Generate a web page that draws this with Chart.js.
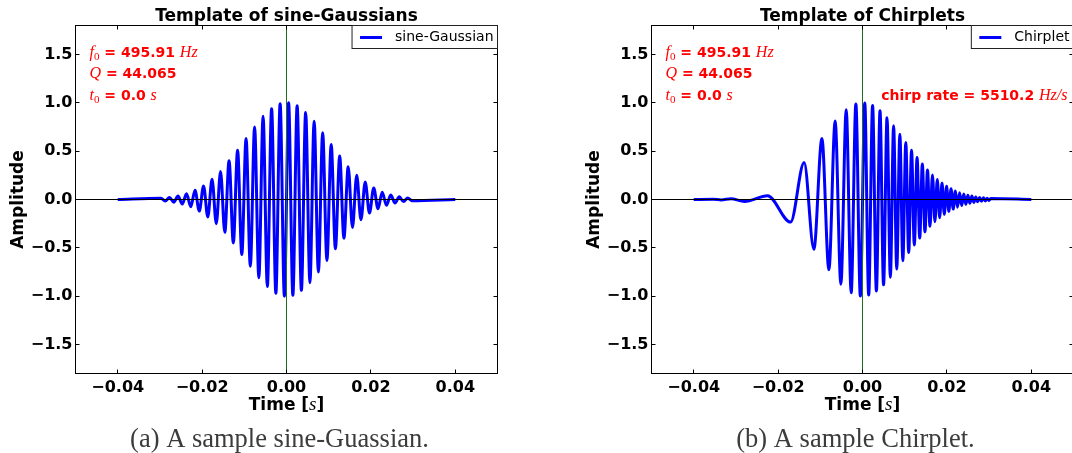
<!DOCTYPE html>
<html>
<head>
<meta charset="utf-8">
<script src="https://cdn.jsdelivr.net/npm/chart.js@4.4.1/dist/chart.umd.min.js"></script>
<style>
  html, body { margin: 0; padding: 0; background: #fff; overflow: hidden; }
  body { width: 1072px; height: 453px; position: relative; }
  canvas { position: absolute; top: 0; }
  #sg { left: 0; }
  #chirp { left: 576px; }
</style>
</head>
<body>
<canvas id="sg" width="536" height="453"></canvas>
<canvas id="chirp" width="536" height="453"></canvas>
<script>
// Axis ranges and tick labels.
const X_RANGE = [-0.05, 0.05];
const Y_RANGE = [-1.8, 1.8];
const X_TICKS = [-0.04, -0.02, 0, 0.02, 0.04];
const Y_TICKS = [-1.5, -1.0, -0.5, 0, 0.5, 1.0, 1.5];

// Waveform parameters printed on the plots.
const F0 = 495.91;
const Q = 44.065;
const T0 = 0.0;
const CHIRP_RATE = 5510.2;

// sine-Gaussian: times of the crests/troughs and their heights.
const SG_T = [
  -0.04,
  -0.02974, -0.02873, -0.02773, -0.02672, -0.02571, -0.02470, -0.02369, -0.02268, -0.02168, -0.02067,
  -0.01966, -0.01865, -0.01764, -0.01664, -0.01563, -0.01462, -0.01361, -0.01260, -0.01159, -0.01059,
  -0.00958, -0.00857, -0.00756, -0.00655, -0.00555, -0.00454, -0.00353, -0.00252, -0.00151, -0.00050,
  0.00050, 0.00151, 0.00252, 0.00353, 0.00454, 0.00555, 0.00655, 0.00756, 0.00857, 0.00958,
  0.01059, 0.01159, 0.01260, 0.01361, 0.01462, 0.01563, 0.01664, 0.01764, 0.01865, 0.01966,
  0.02067, 0.02168, 0.02268, 0.02369, 0.02470, 0.02571, 0.02672, 0.02773, 0.02873, 0.02974,
  0.04,
];
const SG_A = [
  0,
  0.012, -0.016, 0.021, -0.028, 0.037, -0.047, 0.060, -0.076, 0.095, -0.12,
  0.14, -0.18, 0.21, -0.25, 0.29, -0.34, 0.40, -0.45, 0.51, -0.57,
  0.63, -0.69, 0.75, -0.81, 0.86, -0.90, 0.94, -0.97, 0.99, -1.00,
  1.00, -0.99, 0.97, -0.94, 0.90, -0.86, 0.81, -0.75, 0.69, -0.63,
  0.57, -0.51, 0.45, -0.40, 0.34, -0.29, 0.25, -0.21, 0.18, -0.14,
  0.12, -0.095, 0.076, -0.060, 0.047, -0.037, 0.028, -0.021, 0.016, -0.012,
  0,
];

// Chirplet: crests/troughs, slow on the left, fast on the right.
const CH_T = [
  -0.04, -0.03538, -0.03348, -0.03117, -0.02796, -0.02250,
  -0.01704, -0.01383, -0.01152, -0.00962, -0.00796, -0.00648, -0.00512, -0.00386, -0.00268, -0.00157,
  -0.00051, 0.00054, 0.00147, 0.00239, 0.00329, 0.00415, 0.00499, 0.00581, 0.00660, 0.00737,
  0.00812, 0.00885, 0.00956, 0.01026, 0.01095, 0.01162, 0.01228, 0.01293, 0.01356, 0.01418,
  0.01480, 0.01540, 0.01599, 0.01658, 0.01716, 0.01772, 0.01828, 0.01884, 0.01938, 0.01992,
  0.02045, 0.02098, 0.02149, 0.02201, 0.02251, 0.02301, 0.02351, 0.02400, 0.02449, 0.02497,
  0.02544, 0.02591, 0.02638, 0.02684, 0.02730, 0.02775, 0.02820, 0.02865, 0.02909, 0.02953,
  0.02996, 0.03039, 0.04,
];
const CH_A = [
  0, 0.002, -0.004, 0.008, -0.020, 0.038,
  -0.234, 0.384, -0.515, 0.630, -0.728, 0.811, -0.877, 0.928, -0.965, 0.988,
  -0.999, 0.999, -0.989, 0.972, -0.947, 0.917, -0.883, 0.845, -0.804, 0.762,
  -0.719, 0.676, -0.633, 0.590, -0.549, 0.509, -0.470, 0.434, -0.399, 0.366,
  -0.335, 0.305, -0.278, 0.253, -0.229, 0.208, -0.188, 0.170, -0.153, 0.137,
  -0.123, 0.111, -0.099, 0.089, -0.079, 0.071, -0.063, 0.056, -0.050, 0.044,
  -0.039, 0.035, -0.031, 0.027, -0.024, 0.021, -0.019, 0.017, -0.015, 0.013,
  -0.011, 0.010, 0,
];

const BLUE = '#0000ff';
const RED = '#ff0000';
const GREEN = '#1f6f1f';

const bold = (n) => `bold ${n}px "DejaVu Sans"`;
const math = (n) => `italic ${n}px "Liberation Serif"`;
const roman = (n) => `${n}px "Liberation Serif"`;
const fmt = (v, d) => (v < 0 ? '\u2212' : '') + Math.abs(v).toFixed(d);

// Draw a line of text made of runs in different fonts.
function drawRuns(ctx, runs, x, y, align) {
    let w = 0;
    runs.forEach((r) => { ctx.font = r.font; w += ctx.measureText(r.text).width; });
    let cx = align === 'center' ? x - w / 2 : align === 'right' ? x - w : x;
    ctx.textAlign = 'left';
    runs.forEach((r) => {
        ctx.font = r.font;
        ctx.fillText(r.text, cx, y + (r.dy || 0));
        cx += ctx.measureText(r.text).width;
    });
}

// Frame, inward ticks, legend box and all the text around the plot.
const decoPlugin = {
    id: 'deco',
    afterDatasetsDraw(chart, args, opts) {
        const { ctx, chartArea: a, scales: { x, y } } = chart;
        ctx.save();
        ctx.strokeStyle = '#000';
        ctx.lineWidth = 1;
        ctx.beginPath();
        X_TICKS.forEach((v) => {
            const px = Math.floor(x.getPixelForValue(v)) + 0.5;
            ctx.moveTo(px, a.bottom); ctx.lineTo(px, a.bottom - 4);
            ctx.moveTo(px, a.top); ctx.lineTo(px, a.top + 4);
        });
        Y_TICKS.forEach((v) => {
            const py = Math.floor(y.getPixelForValue(v)) + 0.5;
            ctx.moveTo(a.left, py); ctx.lineTo(a.left + 4, py);
            ctx.moveTo(a.right, py); ctx.lineTo(a.right - 4, py);
        });
        ctx.stroke();
        ctx.strokeRect(a.left, a.top, a.right - a.left, a.bottom - a.top);

        // legend, upper right, flush with the frame
        const ds = chart.data.datasets.find((d) => d.order === 2);
        ctx.font = '14px "DejaVu Sans"';
        const tw = ctx.measureText(ds.label).width;
        const bw = 8 + 22 + 13 + tw + 4;
        const bx = a.right - bw, by = a.top, bh = 23;
        ctx.fillStyle = '#fff';
        ctx.fillRect(bx, by, bw, bh);
        ctx.strokeStyle = '#222';
        ctx.strokeRect(bx, by, bw, bh);
        ctx.strokeStyle = BLUE;
        ctx.lineWidth = 3;
        ctx.beginPath();
        ctx.moveTo(bx + 8, by + 12); ctx.lineTo(bx + 30, by + 12);
        ctx.stroke();
        ctx.fillStyle = '#000';
        ctx.textBaseline = 'middle';
        ctx.textAlign = 'left';
        ctx.fillText(ds.label, bx + 43, by + 12);

        // title
        const mid = (a.left + a.right) / 2;
        ctx.textBaseline = 'alphabetic';
        ctx.textAlign = 'center';
        ctx.font = bold(17);
        ctx.fillText(opts.title, mid, a.top - 4.5);

        // axis labels
        drawRuns(ctx, [
            { text: 'Time [', font: bold(17) },
            { text: 's', font: math(19) },
            { text: ']', font: bold(17) },
        ], mid, a.bottom + 36, 'center');
        ctx.save();
        ctx.translate(a.left - 52.5, (a.top + a.bottom) / 2);
        ctx.rotate(-Math.PI / 2);
        ctx.textAlign = 'center';
        ctx.font = bold(17);
        ctx.fillText('Amplitude', 0, 0);
        ctx.restore();

        // red parameter notes
        ctx.fillStyle = RED;
        const nx = a.left + 14;
        drawRuns(ctx, [
            { text: 'f', font: math(16) },
            { text: '0', font: roman(11), dy: 3 },
            { text: ' = ' + F0.toFixed(2) + ' ', font: bold(14) },
            { text: 'Hz', font: math(16) },
        ], nx, a.top + 31, 'left');
        drawRuns(ctx, [
            { text: 'Q', font: math(16) },
            { text: ' = ' + Q.toFixed(3), font: bold(14) },
        ], nx, a.top + 52.5, 'left');
        drawRuns(ctx, [
            { text: 't', font: math(16) },
            { text: '0', font: roman(11), dy: 3 },
            { text: ' = ' + T0.toFixed(1) + ' ', font: bold(14) },
            { text: 's', font: math(16) },
        ], nx, a.top + 74, 'left');
        if (opts.chirp) {
            drawRuns(ctx, [
                { text: 'chirp rate = ' + CHIRP_RATE.toFixed(1) + ' ', font: bold(14) },
                { text: 'Hz/s', font: math(16) },
            ], a.right - 6, a.top + 74, 'right');
        }

        // caption under the panel
        ctx.fillStyle = '#3c3c3c';
        ctx.textAlign = 'center';
        ctx.font = roman(26.5);
        ctx.fillText(opts.caption, mid - 7, 447);
        ctx.restore();
    },
};

function makeChart(id, times, amps, label, deco) {
    const points = times.map((t, i) => ({ x: t, y: amps[i] }));
    return new Chart(document.getElementById(id), {
        type: 'line',
        data: {
            datasets: [
                {
                    label: 'zero',
                    data: X_RANGE.map((v) => ({ x: v, y: 0 })),
                    borderColor: '#000', borderWidth: 1, pointRadius: 0, order: 0,
                },
                {
                    label: 't0',
                    data: Y_RANGE.map((v) => ({ x: T0, y: v })),
                    borderColor: GREEN, borderWidth: 1, pointRadius: 0, order: 1,
                },
                {
                    label,
                    data: points,
                    borderColor: BLUE, borderWidth: 3, pointRadius: 0,
                    cubicInterpolationMode: 'monotone', order: 2,
                },
            ],
        },
        options: {
            responsive: false,
            animation: false,
            layout: { padding: { top: 25.5, right: 38.5, left: 0, bottom: 0 } },
            plugins: {
                legend: { display: false },
                tooltip: { enabled: false },
                deco,
            },
            scales: {
                x: {
                    type: 'linear',
                    min: X_RANGE[0], max: X_RANGE[1],
                    afterBuildTicks: (s) => { s.ticks = X_TICKS.map((v) => ({ value: v })); },
                    afterFit: (s) => { s.height = 79.5; },
                    grid: { display: false, drawTicks: false },
                    border: { display: false },
                    ticks: {
                        callback: (v) => fmt(v, 2),
                        font: { family: 'DejaVu Sans', weight: 'bold', size: 16 },
                        color: '#000', padding: 5, maxRotation: 0, autoSkip: false,
                    },
                },
                y: {
                    min: Y_RANGE[0], max: Y_RANGE[1],
                    afterBuildTicks: (s) => { s.ticks = Y_TICKS.map((v) => ({ value: v })); },
                    afterFit: (s) => { s.width = 75.5; },
                    grid: { display: false, drawTicks: false },
                    border: { display: false },
                    ticks: {
                        callback: (v) => fmt(v, 1),
                        font: { family: 'DejaVu Sans', weight: 'bold', size: 16 },
                        color: '#000', padding: 3, autoSkip: false,
                    },
                },
            },
        },
        plugins: [decoPlugin],
    });
}

makeChart('sg', SG_T, SG_A, 'sine-Gaussian', {
    title: 'Template of sine-Gaussians',
    caption: '(a) A sample sine-Guassian.',
    chirp: false,
});
makeChart('chirp', CH_T, CH_A, 'Chirplet', {
    title: 'Template of Chirplets',
    caption: '(b) A sample Chirplet.',
    chirp: true,
});
</script>
</body>
</html>
